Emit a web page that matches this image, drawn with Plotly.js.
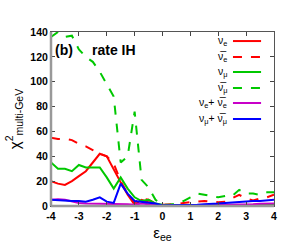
<!DOCTYPE html>
<html><head><meta charset="utf-8">
<script src="https://cdn.plot.ly/plotly-3.0.1.min.js"></script>
<style>body{margin:0;padding:0;background:#fff}#plot{width:292px;height:250px}</style>
</head><body><div id="plot"></div>
<script>
const eps = [-4,-3.75,-3.5,-3.25,-3,-2.75,-2.5,-2.25,-2,-1.75,-1.5,-1.25,-1,-0.75,-0.5,-0.25,0,0.25,0.5,0.75,1,1.25,1.5,1.75,2,2.25,2.5,2.75,3,3.25,3.5,3.75,4];
const nuE =      [20,18,17,20,24,28,35,42,40,29,19,9,1,5,3,1,0.5,0.5,0.5,0.5,0.8,0.8,1,1,1,1,1,1,1,1,1,1,1];
const nuEbar =   [55,54,54,53,50,48,45,42,40,34,20,10,3,6,5,2,1,1,1.5,2.5,3,3.5,4,3.5,3,3.5,6,9,6,4.5,6,7,9];
const nuMu =     [35,30,30,28,33,31,31,31,23,14,23,14,7,4,5,2,1,0.8,0.8,0.8,0.8,0.8,0.8,0.8,0.8,0.8,0.8,0.8,0.8,0.8,0.8,0.8,0.8];
const nuMubar =  [136,140,136,137,126,120,116,108,98,88,35,40,76,21,15,5,1,1,2,4,7,10,9,8,7,8,8,13,10,10,9,11,11];
const nuEsum =   [5,5.5,5,3.5,2.5,2,2,2,2,1.5,1.5,1.5,1,2,1.5,0.5,0.3,0.3,0.3,0.3,0.5,0.5,0.5,0.8,0.8,1,1,1.2,1.5,1.5,1.8,2,2];
const nuMusum =  [5,4.5,4,4,4,3.5,5,7,3.5,2.5,18,10,4,3.5,3,2,0.5,0.5,0.5,1,1,1,1.5,1.5,2,2.5,3,3.5,3.5,4,4,4.5,5];
const seriesNames = ['ν<sub>e</sub>','ν\u0305<sub>e</sub>','ν<sub>μ</sub>','ν\u0305<sub>μ</sub>','ν<sub>e</sub>+ ν\u0305<sub>e</sub>','ν<sub>μ</sub>+ ν\u0305<sub>μ</sub>'];
const seriesData = [nuE,nuEbar,nuMu,nuMubar,nuEsum,nuMusum];
const colors = ['#ff0000','#ff0000','#00c800','#00c800','#c800c8','#0000ff'];
const dashes = ['solid','dash','solid','dash','solid','solid'];
const xTicks = [-4,-3,-2,-1,0,1,2,3,4];
const yTicks = [0,20,40,60,80,100,120,140];

const traces = seriesData.map((d,i)=>({x:eps,y:d,type:'scatter',mode:'lines',name:seriesNames[i],
  line:{color:colors[i],width:2,dash:dashes[i]},showlegend:false}));

// legend built manually (text left of sample, as in the reference)
const legY = [0.948,0.856,0.770,0.678,0.592,0.5];
const shapes = [], annotations = [];
legY.forEach((yy,i)=>{
  shapes.push({type:'line',xref:'paper',yref:'paper',x0:0.816,x1:0.942,y0:yy,y1:yy,line:{color:colors[i],width:2,dash:dashes[i]}});
  annotations.push({xref:'paper',yref:'paper',x:0.797,y:yy,xanchor:'right',yanchor:'middle',showarrow:false,
    text:seriesNames[i],font:{family:'Liberation Sans, Arial',size:10.5,color:'#000'}});
});
shapes.push({type:'line',xref:'paper',yref:'paper',x0:0,x1:0,y0:0,y1:1,line:{color:'#999',width:2.5}});
shapes.push({type:'line',xref:'paper',yref:'paper',x0:0,x1:1,y0:0,y1:0,line:{color:'#999',width:2.5}});
annotations.push({xref:'paper',yref:'paper',x:0.01,y:0.895,xanchor:'left',yanchor:'middle',showarrow:false,
  text:'<b>(b)</b>',font:{family:'Liberation Sans, Arial',size:14,color:'#000'}});
annotations.push({xref:'paper',yref:'paper',x:0.175,y:0.895,xanchor:'left',yanchor:'middle',showarrow:false,
  text:'<b>rate IH</b>',font:{family:'Liberation Sans, Arial',size:14,color:'#000'}});

const tickFont = {family:'Liberation Sans, Arial',size:10.5,color:'#000',weight:'bold'};
const layout = {
  width:292,height:250,margin:{l:51,r:18,t:32,b:44},
  paper_bgcolor:'#fff',plot_bgcolor:'#fff',
  xaxis:{range:[-4,4],tickvals:xTicks,ticktext:xTicks.map(String),ticks:'inside',ticklen:4,tickcolor:'#444',
    showline:true,linecolor:'#555',linewidth:1,mirror:'ticks',showgrid:false,zeroline:false,tickfont:tickFont,
    title:{text:'ε<sub>ee</sub>',font:{family:'Liberation Sans, Arial',size:15,color:'#000'},standoff:6}},
  yaxis:{range:[0,140],tickvals:yTicks,ticktext:yTicks.map(String),ticks:'inside',ticklen:4,tickcolor:'#444',
    showline:true,linecolor:'#555',linewidth:1,mirror:'ticks',showgrid:false,zeroline:false,tickfont:tickFont,
    title:{text:'χ<sup>2</sup><sub>multi-GeV</sub>',font:{family:'Liberation Sans, Arial',size:15,color:'#000'},standoff:6}},
  shapes:shapes,annotations:annotations,showlegend:false
};
Plotly.newPlot('plot',traces,layout,{displayModeBar:false,staticPlot:true});
</script></body></html>
